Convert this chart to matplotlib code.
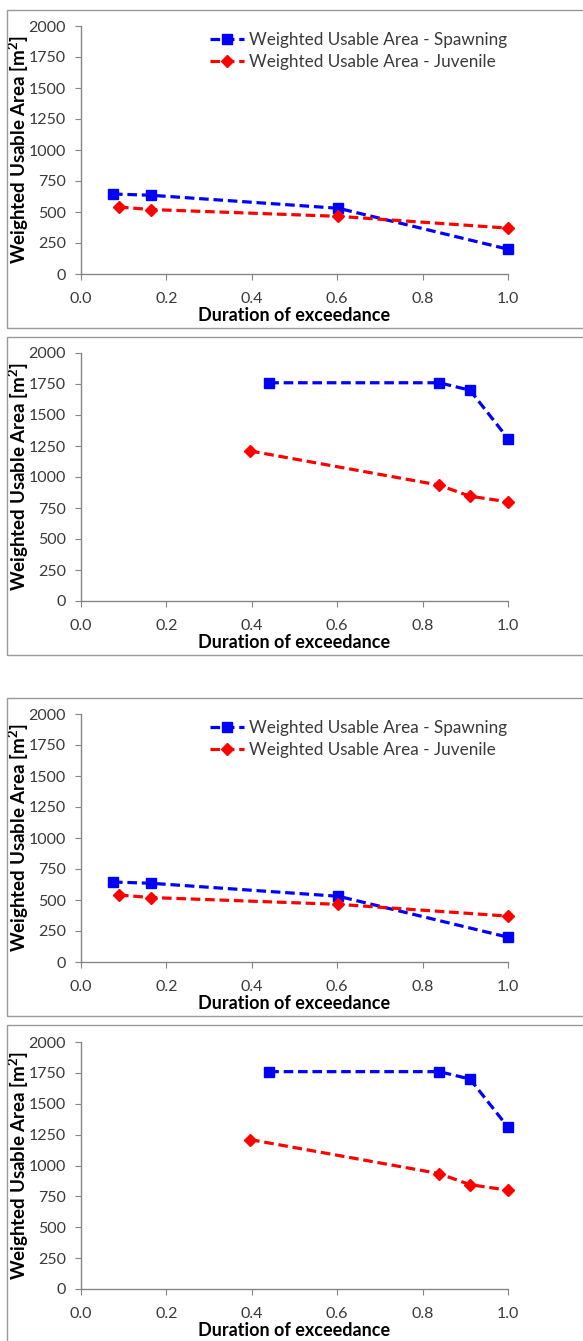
import matplotlib
matplotlib.use('Agg')
import matplotlib.pyplot as plt
from matplotlib.patches import Rectangle

# data
dur_spawn_a = [0.075, 0.164, 0.603, 1.0]
wua_spawn_a = [645, 635, 530, 200]
dur_juv_a = [0.089, 0.163, 0.603, 1.0]
wua_juv_a = [540, 520, 465, 370]

dur_spawn_b = [0.441, 0.839, 0.911, 1.0]
wua_spawn_b = [1760, 1760, 1700, 1310]
dur_juv_b = [0.396, 0.838, 0.911, 1.0]
wua_juv_b = [1210, 935, 845, 800]

x_ticks = [0.0, 0.2, 0.4, 0.6, 0.8, 1.0]
y_ticks = [0, 250, 500, 750, 1000, 1250, 1500, 1750, 2000]

W, H = 583, 1341
plt.rcParams['font.family'] = ['Lato', 'DejaVu Sans']
plt.rcParams['mathtext.fontset'] = 'custom'
plt.rcParams['mathtext.bf'] = 'Lato:bold'
fig = plt.figure(figsize=(W/100, H/100), dpi=100)

gray = '#868686'
txt = '#3a3a3a'

# (box top, box bottom, axes top, axes bottom, show legend, dataset)
panels = [
    (10, 328, 26, 274, True, 'a'),
    (337, 655, 353, 601, False, 'b'),
    (698, 1016, 714, 962, True, 'a'),
    (1025, 1350, 1042, 1289, False, 'b'),
]
data = {
    'a': (dur_spawn_a, wua_spawn_a, dur_juv_a, wua_juv_a),
    'b': (dur_spawn_b, wua_spawn_b, dur_juv_b, wua_juv_b),
}

ax_left, ax_right = 81, 508
for btop, bbot, atop, abot, show_leg, key in panels:
    fig.patches.append(Rectangle((7/W, 1 - bbot/H), (W + 30)/W, (bbot - btop)/H,
                                 transform=fig.transFigure, fill=False,
                                 edgecolor='#9a9a9a', linewidth=1.0))
    ax = fig.add_axes([ax_left/W, 1 - abot/H, (ax_right - ax_left)/W, (abot - atop)/H])
    xs, ys, xj, yj = data[key]
    ax.plot(xs, ys, color='#0000ff', linestyle=(0, (3.0, 1.5)), linewidth=2.3,
            marker='s', markersize=7, clip_on=False, zorder=3,
            label='Weighted Usable Area - Spawning')
    ax.plot(xj, yj, color='#ff0000', linestyle=(0, (3.0, 1.5)), linewidth=2.3,
            marker='D', markersize=6.3, clip_on=False, zorder=3,
            label='Weighted Usable Area - Juvenile')
    ax.set_xlim(0, 1)
    ax.set_ylim(0, 2000)
    ax.set_xticks(x_ticks, [f'{v:.1f}' for v in x_ticks])
    ax.set_yticks(y_ticks)
    for s in ['top', 'right']:
        ax.spines[s].set_visible(False)
    for s in ['left', 'bottom']:
        ax.spines[s].set_color(gray)
        ax.spines[s].set_linewidth(1.0)
    ax.tick_params(direction='out', length=4, color=gray, labelcolor=txt,
                   labelsize=11.5)
    ax.tick_params(axis='x', pad=9)
    ax.tick_params(axis='y', pad=7)
    ax.set_xlabel('Duration of exceedance', fontsize=13, fontweight='bold',
                  color='black', labelpad=1)
    ax.set_ylabel('Weighted Usable Area [m$\\mathbf{^2}$]', fontsize=13.5,
                  fontweight='bold', color='black')
    ax.yaxis.set_label_coords(-0.118, 0.5)
    if show_leg:
        ax.legend(loc='upper left', bbox_to_anchor=(0.285, 1.005), frameon=False,
                  fontsize=12.3, handlelength=2.0, handletextpad=0.3,
                  labelspacing=0.4, borderaxespad=0, labelcolor=txt)

fig.savefig('out.png', dpi=100)
